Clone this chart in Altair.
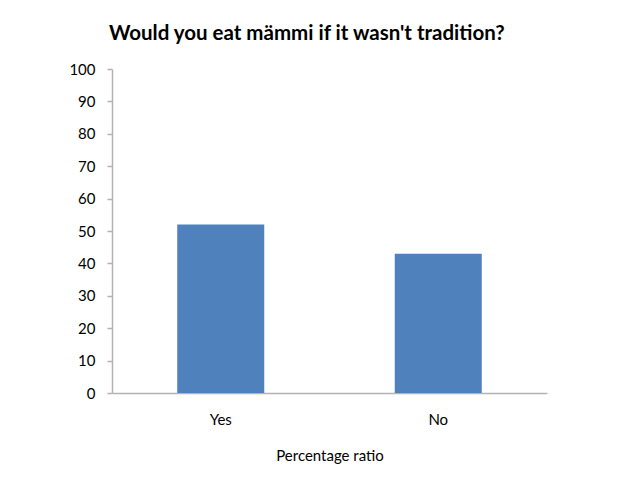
import altair as alt
import pandas as pd

categories = ["Yes", "No"]
values = [52, 43]
y_ticks = [0, 10, 20, 30, 40, 50, 60, 70, 80, 90, 100]

df = pd.DataFrame({"answer": categories, "pct": values})

FONT = "Lato"
AXIS_GRAY = "#b3b3b3"

chart = alt.Chart(df).mark_bar(color="#4f81bd").encode(
    x=alt.X("answer:N", sort=categories,
            scale=alt.Scale(paddingInner=0.6, paddingOuter=0.3),
            axis=alt.Axis(title="Percentage ratio", labelAngle=0, ticks=False,
                          domainColor=AXIS_GRAY, domainWidth=1.5,
                          labelFont=FONT, labelFontSize=15, labelColor="black",
                          labelPadding=19, titleFont=FONT, titleFontSize=15,
                          titleFontWeight="normal", titleColor="black",
                          titlePadding=21)),
    y=alt.Y("pct:Q", scale=alt.Scale(domain=[0, 100]),
            axis=alt.Axis(title=None, values=y_ticks, grid=False,
                          domainColor=AXIS_GRAY, domainWidth=1.5,
                          tickColor=AXIS_GRAY, tickSize=5, tickWidth=1.5,
                          labelFont=FONT, labelFontSize=15, labelColor="black",
                          labelPadding=12)),
).properties(
    width=435,
    height=324,
    title=alt.TitleParams("Would you eat mämmi if it wasn't tradition?",
                          font=FONT, fontSize=20.5, fontWeight="bold",
                          color="black", anchor="start", dx=40, offset=18),
    autosize=alt.AutoSizeParams(type="none"),
    padding={"left": 104, "top": 61, "right": 80, "bottom": 80},
).configure_view(stroke=None)

chart.save("out.html", embed_options={"renderer": "svg", "actions": False})
